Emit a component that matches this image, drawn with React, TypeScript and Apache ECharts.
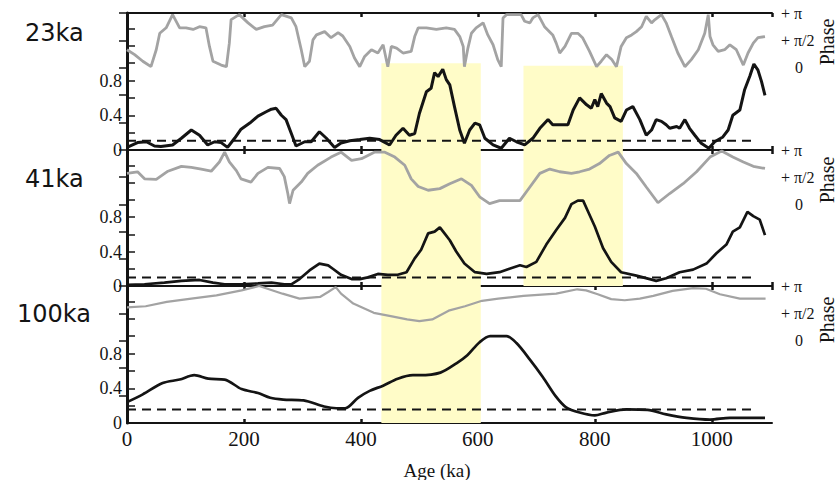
import React, { useEffect, useRef } from "react";
import * as echarts from "echarts";

// ---------- axis / label data ----------
const ageMin = 0;
const ageMax = 1103;
const xTickLabels = ["0", "200", "400", "600", "800", "1000"];
const cohTickValues = [0, 0.4, 0.8];
const cohTickLabels = ["0", "0.4", "0.8"];
const phaseTickValues = [1, 0.5, 0];
const phaseTickLabels = ["+ π", "+ π/2", "0"];
const panelNames = ["23ka", "41ka", "100ka"];
const xAxisTitle = "Age (ka)";
const phaseTitle = "Phase";

// yellow bands (ka)
const bandStart = [435, 678];
const bandEnd = [605, 848];
const bandTop23 = [1.0, 0.97]; // coherence top of the bands in the 23ka panel
const bandsPerPanel = [2, 2, 1];

// significance level (dashed)
const sigLevel = [0.107, 0.1, 0.155];
const sigEnd = 1076;

// ---------- 23 ka ----------
const coh23Age = [0, 18, 33, 47, 58, 78, 93, 110, 124, 138, 150, 161, 172, 184, 195, 210, 224, 238, 247, 255, 264, 272, 281, 289, 304, 315, 329, 341, 355, 366, 381, 398, 415, 432, 449, 460, 472, 483, 492, 500, 512, 520, 526, 532, 540, 546, 552, 560, 569, 577, 586, 595, 603, 612, 626, 640, 654, 666, 680, 694, 706, 720, 728, 740, 754, 763, 774, 786, 794, 800, 805, 811, 820, 826, 834, 845, 854, 865, 877, 888, 897, 905, 914, 922, 928, 940, 945, 954, 962, 971, 982, 995, 1005, 1019, 1028, 1036, 1048, 1056, 1065, 1072, 1079, 1085, 1091];
const coh23 = [0.03, 0.085, 0.095, 0.046, 0.04, 0.058, 0.135, 0.23, 0.17, 0.058, 0.095, 0.085, 0.03, 0.135, 0.24, 0.31, 0.39, 0.44, 0.47, 0.48, 0.4, 0.35, 0.19, 0.046, 0.095, 0.095, 0.21, 0.135, 0.03, 0.08, 0.107, 0.12, 0.135, 0.12, 0.058, 0.17, 0.25, 0.17, 0.19, 0.42, 0.67, 0.71, 0.89, 0.845, 0.93, 0.81, 0.75, 0.5, 0.23, 0.077, 0.23, 0.31, 0.29, 0.135, 0.058, 0.02, 0.135, 0.095, 0.058, 0.135, 0.25, 0.35, 0.29, 0.29, 0.29, 0.46, 0.6, 0.52, 0.48, 0.58, 0.5, 0.65, 0.54, 0.5, 0.37, 0.33, 0.46, 0.5, 0.35, 0.17, 0.23, 0.35, 0.33, 0.29, 0.25, 0.27, 0.25, 0.35, 0.25, 0.17, 0.077, 0.02, 0.095, 0.15, 0.23, 0.4, 0.46, 0.69, 0.85, 0.99, 0.92, 0.79, 0.63];
const ph23Age = [0, 13, 27, 41, 50, 56, 67, 78, 90, 101, 113, 124, 135, 141, 147, 161, 170, 175, 178, 192, 207, 221, 235, 249, 264, 281, 289, 298, 304, 312, 318, 324, 338, 349, 361, 369, 381, 389, 398, 406, 418, 429, 438, 446, 452, 461, 472, 486, 492, 498, 512, 529, 546, 560, 569, 575, 577, 583, 589, 597, 609, 617, 626, 634, 640, 643, 649, 660, 674, 680, 689, 694, 703, 714, 728, 734, 740, 749, 760, 771, 779, 791, 803, 811, 820, 829, 837, 845, 854, 863, 871, 880, 888, 897, 903, 914, 922, 931, 942, 954, 965, 977, 988, 994, 997, 1002, 1011, 1022, 1031, 1042, 1054, 1062, 1071, 1079, 1091];
const ph23 = [0.33, 0.24, 0.12, 0.02, 0.33, 0.63, 0.73, 0.97, 0.73, 0.73, 0.7, 0.75, 0.73, 0.39, 0.12, 0.05, 0.02, 0.45, 0.88, 0.97, 0.82, 0.7, 0.75, 0.78, 0.97, 0.91, 0.75, 0.33, 0.02, 0.12, 0.51, 0.6, 0.66, 0.55, 0.64, 0.58, 0.39, 0.18, 0.02, 0.2, 0.33, 0.27, 0.42, 0.02, 0.39, 0.36, 0.27, 0.3, 0.57, 0.73, 0.73, 0.7, 0.73, 0.7, 0.57, 0.39, 0.02, 0.36, 0.63, 0.73, 0.82, 0.6, 0.42, 0.15, 0.02, 0.91, 0.97, 0.97, 0.97, 0.85, 0.82, 0.91, 0.97, 0.75, 0.6, 0.45, 0.27, 0.39, 0.63, 0.63, 0.55, 0.3, 0.02, 0.12, 0.24, 0.15, 0.02, 0.39, 0.55, 0.6, 0.66, 0.75, 0.94, 0.82, 0.88, 0.97, 0.82, 0.57, 0.27, 0.02, 0.15, 0.33, 0.63, 0.97, 0.57, 0.42, 0.3, 0.33, 0.42, 0.33, 0.05, 0.27, 0.45, 0.55, 0.57];

// ---------- 41 ka ----------
const coh41Age = [0, 30, 64, 93, 124, 147, 167, 195, 224, 247, 269, 281, 295, 312, 329, 344, 352, 366, 384, 398, 412, 429, 446, 463, 478, 492, 503, 515, 526, 535, 543, 552, 563, 577, 595, 615, 637, 654, 672, 683, 700, 717, 734, 749, 760, 771, 780, 788, 800, 814, 828, 845, 871, 894, 905, 922, 945, 968, 991, 1008, 1025, 1036, 1048, 1061, 1071, 1082, 1091];
const coh41 = [0.014, 0.02, 0.04, 0.06, 0.07, 0.04, 0.02, 0.02, 0.03, 0.04, 0.02, 0.02, 0.08, 0.18, 0.26, 0.24, 0.2, 0.13, 0.08, 0.08, 0.1, 0.14, 0.13, 0.13, 0.16, 0.32, 0.42, 0.61, 0.63, 0.68, 0.61, 0.53, 0.4, 0.26, 0.16, 0.14, 0.16, 0.2, 0.24, 0.22, 0.28, 0.48, 0.65, 0.79, 0.95, 0.99, 0.99, 0.87, 0.69, 0.44, 0.28, 0.16, 0.12, 0.08, 0.06, 0.09, 0.16, 0.19, 0.26, 0.38, 0.48, 0.63, 0.68, 0.86, 0.81, 0.77, 0.59];
const ph41Age = [0, 18, 30, 50, 70, 93, 110, 127, 144, 158, 167, 175, 187, 195, 212, 224, 241, 261, 269, 275, 278, 284, 298, 309, 326, 349, 366, 384, 401, 423, 441, 458, 475, 486, 498, 515, 535, 552, 572, 589, 603, 620, 637, 672, 689, 706, 723, 740, 760, 774, 791, 808, 825, 840, 854, 871, 888, 908, 928, 951, 974, 997, 1017, 1036, 1054, 1071, 1091];
const ph41 = [0.57, 0.6, 0.47, 0.46, 0.61, 0.7, 0.68, 0.65, 0.61, 0.78, 0.96, 0.78, 0.62, 0.47, 0.41, 0.57, 0.68, 0.66, 0.51, 0.2, 0.015, 0.26, 0.41, 0.57, 0.72, 0.87, 0.96, 0.81, 0.84, 0.96, 0.96, 0.87, 0.72, 0.47, 0.33, 0.26, 0.29, 0.38, 0.47, 0.35, 0.14, 0.015, 0.07, 0.07, 0.32, 0.57, 0.65, 0.6, 0.57, 0.6, 0.65, 0.75, 0.9, 0.96, 0.75, 0.57, 0.32, 0.03, 0.2, 0.38, 0.6, 0.87, 0.98, 0.87, 0.78, 0.7, 0.66];

// ---------- 100 ka ----------
const coh100Age = [0, 27, 61, 90, 115, 139, 167, 196, 224, 245, 267, 302, 337, 358, 373, 395, 415, 438, 463, 489, 500, 536, 564, 582, 603, 621, 649, 666, 689, 711, 734, 751, 774, 800, 820, 854, 890, 922, 957, 997, 1031, 1091];
const coh100 = [0.24, 0.33, 0.46, 0.5, 0.55, 0.51, 0.5, 0.39, 0.345, 0.29, 0.27, 0.26, 0.19, 0.17, 0.17, 0.29, 0.37, 0.43, 0.51, 0.55, 0.55, 0.58, 0.69, 0.78, 0.93, 1.0, 1.0, 0.92, 0.73, 0.53, 0.3, 0.18, 0.12, 0.087, 0.12, 0.156, 0.15, 0.1, 0.06, 0.04, 0.06, 0.06];
const ph100Age = [0, 32, 68, 110, 153, 196, 226, 266, 295, 330, 344, 357, 366, 387, 422, 451, 479, 500, 522, 550, 578, 607, 635, 678, 734, 770, 785, 805, 828, 851, 877, 900, 933, 968, 990, 1014, 1048, 1092];
const ph100 = [0.61, 0.63, 0.71, 0.77, 0.83, 0.92, 1.0, 0.86, 0.77, 0.8, 0.89, 0.98, 0.86, 0.68, 0.51, 0.45, 0.39, 0.36, 0.39, 0.55, 0.63, 0.73, 0.77, 0.82, 0.86, 0.94, 0.92, 0.85, 0.76, 0.74, 0.77, 0.82, 0.91, 0.96, 0.95, 0.85, 0.77, 0.77];

const cohAges = [coh23Age, coh41Age, coh100Age];
const cohVals = [coh23, coh41, coh100];
const phAges = [ph23Age, ph41Age, ph100Age];
const phVals = [ph23, ph41, ph100];

const zip = (a: number[], b: number[]) => a.map((x, i) => [x, b[i]]);

const SERIF = "Liberation Serif";
const SANS = "DejaVu Sans";
const INK = "#141414";
const GRAY = "#a3a3a3";
const YELLOW = "#fffcc8";

const gridBoxes = [
  { top: 13, height: 137 },
  { top: 150, height: 136 },
  { top: 286, height: 137 },
];
const labelY = [33, 179, 314];
const labelX = [25, 25, 17];
const phaseTitleY = [42, 180, 320];

export default function App() {
  const ref = useRef<HTMLDivElement>(null);

  useEffect(() => {
    if (!ref.current) return;
    const chart = echarts.init(ref.current, undefined, { renderer: "svg" });

    const near = (v: number, t: number) => Math.abs(v - t) < 1e-6;
    const cohFmt = (v: number) => {
      const i = cohTickValues.findIndex((t) => near(v, t));
      return i >= 0 ? cohTickLabels[i] : "";
    };
    const phFmt = (v: number) => {
      const i = phaseTickValues.findIndex((t) => near(v, t));
      if (i < 0) return "";
      return near(v, 0) ? "{z|" + phaseTickLabels[i] + "}" : phaseTickLabels[i];
    };
    const xFmt = (v: number) => {
      const i = xTickLabels.findIndex((t) => near(v, Number(t)));
      return i >= 0 ? xTickLabels[i] : "";
    };

    const grid: any[] = [];
    const xAxis: any[] = [];
    const yAxis: any[] = [];
    const series: any[] = [];

    gridBoxes.forEach((g, i) => {
      grid.push({ left: 127, width: 645, top: g.top, height: g.height });
      const axLine = { show: true, onZero: false, lineStyle: { color: INK, width: 2 } };
      xAxis.push({
        type: "value", gridIndex: i, position: "bottom", min: ageMin, max: ageMax, interval: 200,
        axisLine: axLine,
        axisTick: { show: true, inside: true, length: 4, lineStyle: { color: INK, width: 2.5 } },
        axisLabel: {
          show: i === 2, formatter: xFmt, fontFamily: SERIF, fontSize: 21, color: INK, margin: 5,
          showMaxLabel: false,
        },
        splitLine: { show: false },
      });
      xAxis.push({
        type: "value", gridIndex: i, position: "top", min: ageMin, max: ageMax, interval: 200,
        axisLine: axLine,
        axisTick: { show: true, inside: true, length: 4, lineStyle: { color: INK, width: 2.5 } },
        axisLabel: { show: false },
        splitLine: { show: false },
      });
      yAxis.push({
        type: "value", gridIndex: i, position: "left", min: 0, max: 1.577, interval: 0.2,
        axisLine: { show: true, lineStyle: { color: INK, width: 3 } },
        axisTick: { show: true, inside: true, length: 8, lineStyle: { color: INK, width: 1.5 } },
        axisLabel: {
          formatter: cohFmt, fontFamily: SERIF, fontSize: 18, color: INK, margin: 5,
          showMinLabel: true, showMaxLabel: false,
        },
        splitLine: { show: false },
      });
      yAxis.push({
        type: "value", gridIndex: i, position: "right", min: -1.5, max: 1, interval: 0.5,
        axisLine: { show: true, lineStyle: { color: INK, width: 2 } },
        axisTick: { show: true, inside: true, length: 8, lineStyle: { color: INK, width: 1.5 } },
        axisLabel: {
          formatter: phFmt, fontFamily: SERIF, fontSize: 16, color: INK, margin: 9, align: "left",
          showMinLabel: false, showMaxLabel: true,
          rich: { z: { fontFamily: SERIF, fontSize: 16, color: INK, padding: [0, 0, 0, 14] } },
        },
        splitLine: { show: false },
      });

      // bands
      const bandData: any[] = [];
      for (let b = 0; b < bandsPerPanel[i]; b++) {
        if (i === 0) {
          bandData.push([{ xAxis: bandStart[b], yAxis: 0 }, { xAxis: bandEnd[b], yAxis: bandTop23[b] }]);
        } else {
          bandData.push([{ xAxis: bandStart[b] }, { xAxis: bandEnd[b] }]);
        }
      }
      series.push({
        type: "line", name: "band" + i, xAxisIndex: 2 * i, yAxisIndex: 2 * i, data: [],
        silent: true, z: 0,
        markArea: { silent: true, itemStyle: { color: YELLOW, borderWidth: 0 }, data: bandData },
      });
      series.push({
        type: "line", name: "phase" + i, xAxisIndex: 2 * i, yAxisIndex: 2 * i + 1,
        data: zip(phAges[i], phVals[i]), showSymbol: false, symbol: "none", z: 3,
        lineStyle: { color: GRAY, width: i === 2 ? 2.2 : 2.8 },
      });
      series.push({
        type: "line", name: "sig" + i, xAxisIndex: 2 * i, yAxisIndex: 2 * i,
        data: [[ageMin, sigLevel[i]], [sigEnd, sigLevel[i]]], showSymbol: false, symbol: "none", z: 4,
        lineStyle: { color: INK, width: 2, type: [9, 6] },
      });
      series.push({
        type: "line", name: "coh" + i, xAxisIndex: 2 * i, yAxisIndex: 2 * i,
        data: zip(cohAges[i], cohVals[i]), showSymbol: false, symbol: "none", z: 5,
        smooth: i === 2 ? 0.3 : false,
        lineStyle: { color: INK, width: i === 0 ? 3 : 2.7 },
      });
    });

    const graphic: any[] = [];
    panelNames.forEach((name, i) => {
      graphic.push({
        type: "text", x: labelX[i], y: labelY[i],
        style: {
          text: name, fontFamily: SANS, fontSize: 24, fill: INK,
          textAlign: "left", textVerticalAlign: "middle",
        },
      });
      graphic.push({
        type: "text", x: 827, y: phaseTitleY[i], rotation: Math.PI / 2,
        style: {
          text: phaseTitle, fontFamily: SERIF, fontSize: 20, fill: INK,
          textAlign: "center", textVerticalAlign: "middle",
        },
      });
    });
    graphic.push({
      type: "text", x: 437, y: 470,
      style: {
        text: xAxisTitle, fontFamily: SERIF, fontSize: 19, fill: INK,
        textAlign: "center", textVerticalAlign: "middle",
      },
    });

    chart.setOption({
      animation: false,
      backgroundColor: "#ffffff",
      grid, xAxis, yAxis, series, graphic,
    });

    return () => chart.dispose();
  }, []);

  return (
    <div
      ref={ref}
      style={{ position: "absolute", left: 0, top: 0, width: 839, height: 480, background: "#fff" }}
    />
  );
}
